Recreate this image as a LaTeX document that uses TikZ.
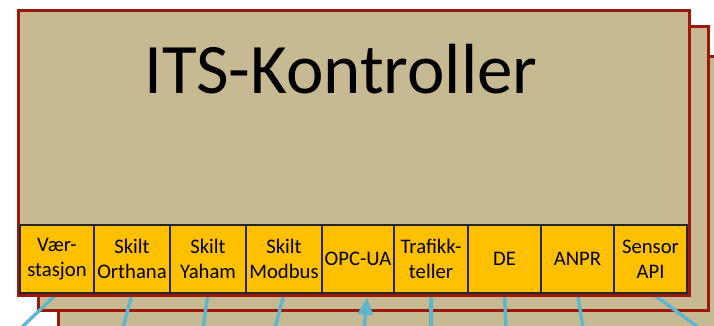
\documentclass[tikz,border=0pt]{standalone}
\usepackage{fontspec}
\setmainfont{Carlito}
\usetikzlibrary{arrows.meta,calc}
\definecolor{boxtan}{RGB}{199,185,145}
\definecolor{frame}{RGB}{155,25,10}
\definecolor{cellyellow}{RGB}{255,192,0}
\definecolor{wirecol}{RGB}{91,183,208}
\pgfdeclarelayer{bg}
\pgfdeclarelayer{mid}
\pgfsetlayers{bg,mid,main}
\begin{document}
\begin{tikzpicture}[x=1pt,y=-1pt,
  box/.style={fill=boxtan,draw=frame,line width=3pt},
  cell/.style={draw=black!85,line width=1.2pt,fill=cellyellow,minimum height=68pt,
    inner sep=0pt,align=center,font=\fontsize{20.7}{24.6}\selectfont},
  wire/.style={draw=wirecol,line width=3.3pt}]
\useasboundingbox (0,0) rectangle (714,326);
\begin{pgfonlayer}{bg}
  \draw[box] (58,57) rectangle (740,360);
  \draw[box] (38,27) rectangle (708,310);
\end{pgfonlayer}
\draw[box] (18,11) rectangle (689,295);
\node[font=\fontsize{71}{80}\selectfont,anchor=base] (title) at (341,94) {ITS-Kontroller};
\node[cell,minimum width=74pt] (c1) at (57,259) {Vær-\\stasjon};
\node[cell,minimum width=76pt] (c2) at (132,259) {Skilt\\Orthana};
\node[cell,minimum width=76pt] (c3) at (208,259) {Skilt\\Yaham};
\node[cell,minimum width=76pt] (c4) at (284,259) {Skilt\\Modbus};
\node[cell,minimum width=72pt] (c5) at (358,259) {OPC-UA};
\node[cell,minimum width=74pt] (c6) at (431,259) {Trafikk-\\teller};
\node[cell,minimum width=73pt] (c7) at (504.5,259) {DE};
\node[cell,minimum width=73pt] (c8) at (577.5,259) {ANPR};
\node[cell,minimum width=73pt] (c9) at (650.5,259) {Sensor\\API};
\coordinate (w1) at (21,328);
\coordinate (w2) at (123,328);
\coordinate (w3) at (203,328);
\coordinate (w4) at (275,328);
\coordinate (w5) at (364,330);
\coordinate (w6) at (431,328);
\coordinate (w7) at (506,328);
\coordinate (w8) at (583,328);
\coordinate (w9) at (699,328);
\begin{pgfonlayer}{mid}
  \draw[wire] (c1.south) -- (w1);
  \draw[wire] (c2.south) -- (w2);
  \draw[wire] (c3.south) -- (w3);
  \draw[wire] (c4.south) -- (w4);
  \draw[wire,-{Triangle[width=15pt,length=17pt]}] (w5) -- ($(c5.south)+(9,4)$);
  \draw[wire] (c6.south) -- (w6);
  \draw[wire] (c7.south) -- (w7);
  \draw[wire] (c8.south) -- (w8);
  \draw[wire] ($(c9.south)+(2,0)$) -- (w9);
\end{pgfonlayer}
\end{tikzpicture}
\end{document}
